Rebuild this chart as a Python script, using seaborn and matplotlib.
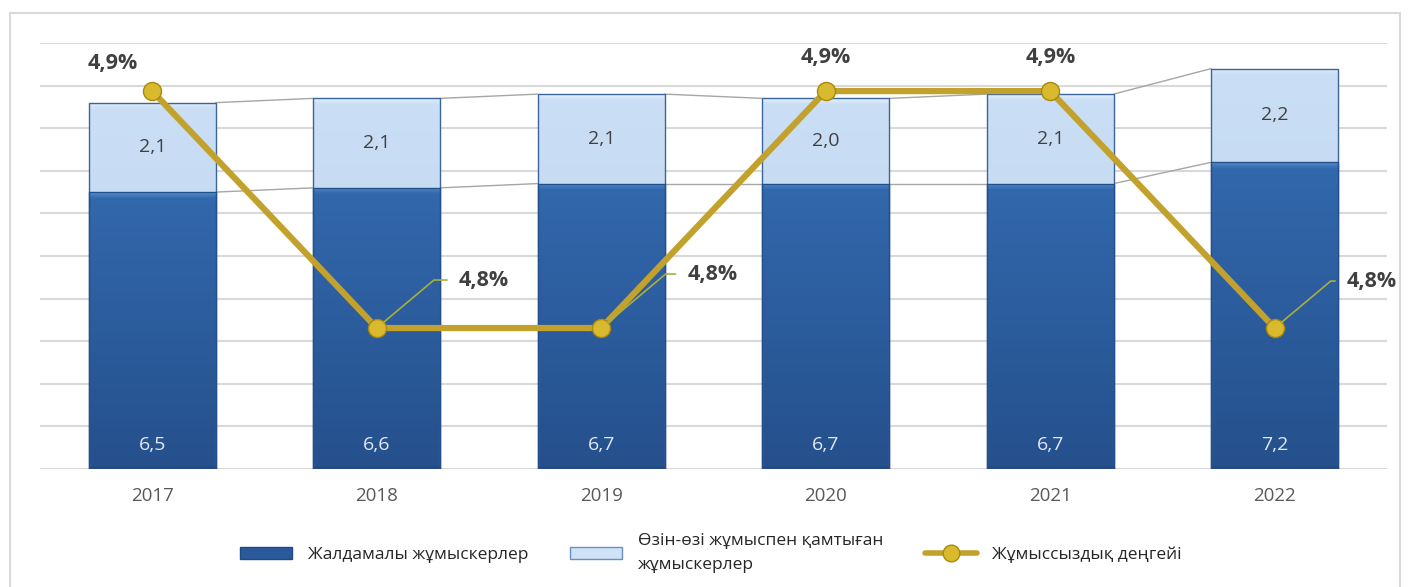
import matplotlib
matplotlib.use("Agg")
import matplotlib.pyplot as plt
import numpy as np
import seaborn as sns
from matplotlib.patches import Patch, Rectangle
from matplotlib.lines import Line2D
from matplotlib.colors import to_rgb

# data
years = ["2017", "2018", "2019", "2020", "2021", "2022"]
hired = [6.5, 6.6, 6.7, 6.7, 6.7, 7.2]          # Жалдамалы жұмыскерлер
self_emp = [2.1, 2.1, 2.1, 2.0, 2.1, 2.2]       # Өзін-өзі жұмыспен қамтыған
unemp = [4.9, 4.8, 4.8, 4.9, 4.9, 4.8]          # Жұмыссыздық деңгейі, %

totals = [a + b for a, b in zip(hired, self_emp)]

sns.set_style("white")
plt.rcParams['font.family'] = ['Open Sans', 'DejaVu Sans']

fig = plt.figure(figsize=(14.08, 5.87), dpi=100)
ax = fig.add_axes([40/1408, 118/587, 1347/1408, 426/587])

bw = 0.565
dark = "#2F5E9E"
light = "#C6DCF4"
gold = "#C2A22C"

# stacked bars: totals first, then the lower part on top of it
sns.barplot(x=years, y=totals, color=light, saturation=1, width=bw,
            edgecolor="#3A64A0", linewidth=1, ax=ax, zorder=3)
sns.barplot(x=years, y=hired, color=dark, saturation=1, width=bw,
            edgecolor="#24508A", linewidth=1, ax=ax, zorder=3)


def bevel(hpx, bot, top, rim, low):
    # vertical colour column: body gradient + light rim on top + dark line at bottom
    t = np.linspace(0, 1, hpx).reshape(-1, 1)
    col = (1 - t) * np.array(to_rgb(bot)) + t * np.array(to_rgb(top))
    r = min(14, hpx)
    for j in range(r):
        a = (1 - j / r) ** 1.5
        col[hpx - 1 - j] = a * np.array(to_rgb(rim)) + (1 - a) * col[hpx - 1 - j]
    for j in range(6):
        a = (1 - j / 6) * 0.6
        col[j] = a * np.array(to_rgb(low)) + (1 - a) * col[j]
    return col.reshape(hpx, 1, 3)


px_per_unit = 426 / 10 * 2   # twice the screen resolution
n = len(years)
for k, p in enumerate(ax.patches):
    x, y, w, h = p.get_x(), p.get_y(), p.get_width(), p.get_height()
    hpx = max(int(h * px_per_unit), 8)
    if k < n:
        img = bevel(hpx, "#BDD4EF", "#CADFF5", "#E6F1FC", "#9DB8DC")
    else:
        img = bevel(hpx, "#25508C", "#3268AD", "#5B93D6", "#1E3F6E")
    im = ax.imshow(img, extent=[x, x + w, y, y + h], origin="lower",
                   aspect="auto", zorder=2.9, interpolation="antialiased")
    im.set_clip_path(p)
    p.set_facecolor("none")

ax.set_xlim(-0.5, 5.5)
ax.set_ylim(0, 10)
ax.set_yticks(range(0, 11))
ax.set_yticklabels([])
ax.grid(axis="y", color="#D9D9D9", linewidth=1.5)
ax.set_axisbelow(True)
for s in ax.spines.values():
    s.set_visible(False)
ax.tick_params(axis="both", length=0)
ax.tick_params(axis="x", labelsize=13.5, labelcolor="#595959", pad=13)
ax.set_xlabel("")

# series lines between bars
for i in range(n - 1):
    for lvl in (hired, totals):
        ax.plot([i + bw/2, i + 1 - bw/2], [lvl[i], lvl[i + 1]], color="#A6A6A6", lw=1, zorder=2.5)

# bar value labels
for i in range(n):
    ax.annotate(f"{hired[i]:.1f}".replace(".", ","), xy=(i, 0), xytext=(0, 24),
                textcoords="offset pixels", ha="center", va="center",
                fontsize=14, color="#E3EAF5", zorder=5)
    ax.text(i, hired[i] + self_emp[i]/2, f"{self_emp[i]:.1f}".replace(".", ","),
            ha="center", va="center", fontsize=14, color="#404040", zorder=5)

# unemployment line on secondary axis
ax2 = ax.twinx()
sns.lineplot(x=list(range(n)), y=unemp, ax=ax2, color=gold, lw=4.5,
             marker="o", markersize=13, markerfacecolor="#D9B92E",
             markeredgecolor="#A8880F", markeredgewidth=1)
ax2.set_ylim(4.7405, 4.9203)
ax2.set_yticks([])
for s in ax2.spines.values():
    s.set_visible(False)

# label offsets in pixels (text centre relative to point)
offs = [(-39, 28), (107, 48), (111, 54), (0, 34), (0, 34), (97, 47)]
for i, v in enumerate(unemp):
    txt = f"{v:.1f}%".replace(".", ",")
    dx, dy = offs[i]
    if dx > 50:
        ax2.annotate(txt, xy=(i, v), xytext=(dx, dy), textcoords="offset pixels",
                     ha="center", va="center", fontsize=15.5, fontweight="bold", color="#404040",
                     arrowprops=dict(arrowstyle="-", color="#A9AE3C", lw=1.2,
                                     connectionstyle="angle,angleA=0,angleB=40",
                                     relpos=(0, 0.5), shrinkA=6, shrinkB=6))
    else:
        ax2.annotate(txt, xy=(i, v), xytext=(dx, dy), textcoords="offset pixels",
                     ha="center", va="center", fontsize=15.5, fontweight="bold", color="#404040")

# outer frame
fig.patches.append(Rectangle((10/1408, -0.01), 1390/1408, 1 - 13/587 + 0.01,
                             transform=fig.transFigure, fill=False,
                             edgecolor="#D9D9D9", lw=1.5))

handles = [Patch(facecolor="#2A5A9C", edgecolor="#1F4A85"),
           Patch(facecolor="#D0E2F5", edgecolor="#6A8FC0"),
           Line2D([], [], color=gold, lw=4, marker="o", markersize=12,
                  markerfacecolor="#D9B92E", markeredgecolor="#A8880F")]
labels = ["Жалдамалы жұмыскерлер", "Өзін-өзі жұмыспен қамтыған\nжұмыскерлер", "Жұмыссыздық деңгейі"]
leg = fig.legend(handles, labels, loc="center", bbox_to_anchor=(0.505, 0.058), ncol=3,
                 frameon=False, fontsize=12.5, handlelength=3.0, handleheight=0.7,
                 handletextpad=0.9, columnspacing=2.4, labelcolor="#262626")
leg.get_texts()[1].set_linespacing(1.7)

fig.savefig("out.png", dpi=100)
